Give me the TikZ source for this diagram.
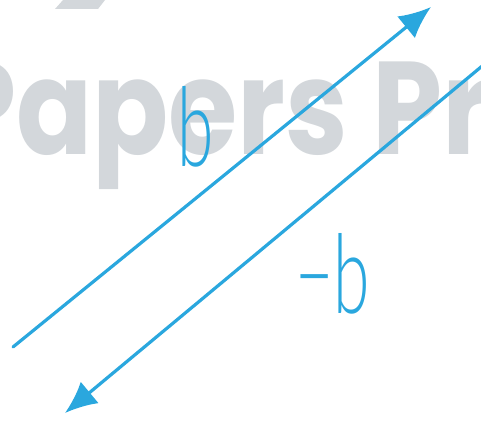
\documentclass[tikz,border=0pt]{standalone}
\usepackage{fontspec}
\setmainfont{Lato}
\newfontfamily\wmfont{Poppins}
\newfontfamily\handfont{Lato Light}
\usetikzlibrary{arrows.meta}
\definecolor{vblue}{HTML}{2AA7DE}
\definecolor{wmgray}{HTML}{D3D7DB}
\begin{document}
\begin{tikzpicture}[x=1pt,y=-1pt,
  vec/.style={draw=vblue, line width=3.2pt, line cap=round, -{Latex[length=32pt,width=28pt]}},
  lbl/.style={text=vblue, inner sep=0pt, font=\handfont\fontsize{110}{110}\selectfont},
  wm/.style={text=wmgray, inner sep=0pt, anchor=base west, font=\wmfont\bfseries\fontsize{132}{132}\selectfont}]
\useasboundingbox (0,0) rectangle (481,420);
\clip (0,0) rectangle (481,420);
\fill[wmgray] (55,9) -- (98,9) -- (105,0) -- (63,0) -- cycle;
\node[wm, xscale=0.85] (water) at (-54,154) {Papers Pr};
\coordinate (a1) at (13,347);
\coordinate (a2) at (431,7);
\coordinate (b1) at (493,57);
\coordinate (b2) at (65,413);
\draw[vec] (a1) -- (a2);
\draw[vec] (b1) -- (b2);
\node[lbl, xscale=0.6] (lb) at (196,127) {b};
\node[lbl, xscale=0.6] (lmb) at (333,274) {−b};
\end{tikzpicture}
\end{document}
